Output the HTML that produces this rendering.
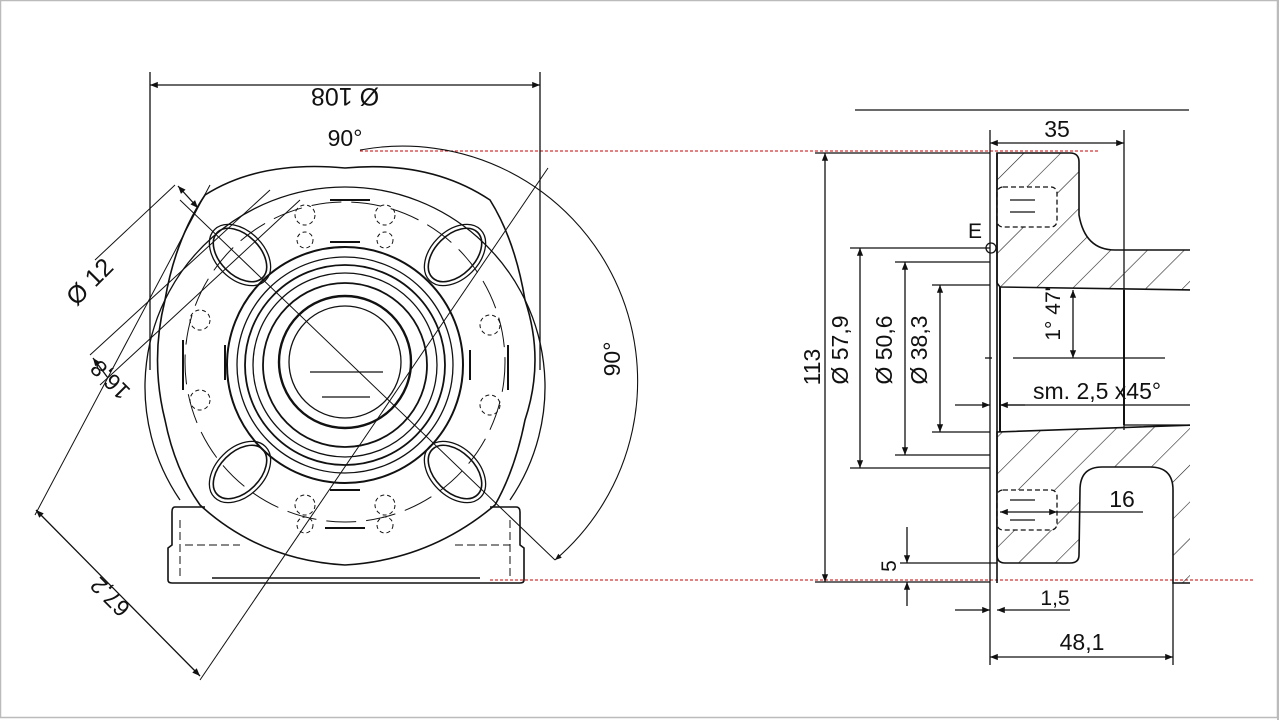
<!DOCTYPE html>
<html><head><meta charset="utf-8"><style>
html,body{margin:0;padding:0;background:#fff;}
svg{display:block}
text{font-family:"Liberation Sans",sans-serif;fill:#111}
</style></head><body>
<svg width="1280" height="720" viewBox="0 0 1280 720" xmlns="http://www.w3.org/2000/svg">
<defs>
<marker id="a" viewBox="0 0 10 10" refX="10" refY="5" markerWidth="9" markerHeight="6" orient="auto-start-reverse"><path d="M0,1 L10,5 L0,9 Z" fill="#111"/></marker>
<pattern id="h" width="26" height="26" patternUnits="userSpaceOnUse" patternTransform="rotate(45)"><line x1="0" y1="0" x2="0" y2="26" stroke="#222" stroke-width="1.2"/></pattern>
<clipPath id="cp"><rect x="0" y="0" width="1190" height="720"/></clipPath>
</defs>
<rect x="0.5" y="0.5" width="1277" height="717" fill="none" stroke="#bbb" stroke-width="1.5"/>
<line x1="360" y1="151" x2="1100" y2="151" stroke="#c00" stroke-dasharray="3,2" stroke-width="1"/>
<line x1="490" y1="580" x2="1255" y2="580" stroke="#c00" stroke-dasharray="3,2" stroke-width="1"/>

<g stroke="#111" fill="none" stroke-width="1.3">
<line x1="150" y1="72" x2="150" y2="370"/><line x1="540" y1="72" x2="540" y2="370"/>
<line x1="150" y1="85" x2="540" y2="85" marker-start="url(#a)" marker-end="url(#a)"/>
<path d="M180 500 A200 200 0 1 1 510 500"/>
<path d="M205 195 Q260 160 345 168 Q430 160 490 200 Q515 240 525 300 Q545 360 525 420 Q515 470 495 505 Q430 560 345 565 Q260 560 200 505 Q175 470 165 420 Q150 360 165 300 Q175 240 205 195 Z" stroke-width="1.6"/>
<circle cx="345" cy="362" r="160" stroke-dasharray="30,10" stroke-width="1"/>
<circle cx="345" cy="365" r="118" stroke-width="2"/>
<circle cx="345" cy="365" r="108"/>
<circle cx="345" cy="365" r="100" stroke-width="1.8"/>
<circle cx="345" cy="365" r="92"/>
<circle cx="345" cy="365" r="82" stroke-width="1.8"/>
<circle cx="345" cy="362" r="66" stroke-width="2.4"/>
<circle cx="345" cy="362" r="56"/>
<line x1="310" y1="372" x2="383" y2="372"/><line x1="322" y1="397" x2="370" y2="397"/>
<ellipse cx="240" cy="255" rx="32" ry="20" transform="rotate(45 240 255)" stroke-width="1.6"/>
<ellipse cx="240" cy="255" rx="36" ry="24" transform="rotate(45 240 255)"/>
<ellipse cx="455" cy="255" rx="32" ry="20" transform="rotate(-45 455 255)" stroke-width="1.6"/>
<ellipse cx="455" cy="255" rx="36" ry="24" transform="rotate(-45 455 255)"/>
<ellipse cx="240" cy="472" rx="32" ry="20" transform="rotate(-45 240 472)" stroke-width="1.6"/>
<ellipse cx="240" cy="472" rx="36" ry="24" transform="rotate(-45 240 472)"/>
<ellipse cx="455" cy="472" rx="32" ry="20" transform="rotate(45 455 472)" stroke-width="1.6"/>
<ellipse cx="455" cy="472" rx="36" ry="24" transform="rotate(45 455 472)"/>
<g stroke-dasharray="4,3" stroke-width="1">
<circle cx="305" cy="215" r="10"/><circle cx="385" cy="215" r="10"/><circle cx="305" cy="240" r="8"/><circle cx="385" cy="240" r="8"/>
<circle cx="305" cy="505" r="10"/><circle cx="385" cy="505" r="10"/><circle cx="305" cy="525" r="8"/><circle cx="385" cy="525" r="8"/>
<circle cx="200" cy="320" r="10"/><circle cx="200" cy="400" r="10"/><circle cx="490" cy="325" r="10"/><circle cx="490" cy="405" r="10"/>
</g>
<line x1="330" y1="200" x2="370" y2="200" stroke-width="2"/><line x1="330" y1="242" x2="360" y2="242" stroke-width="2"/>
<line x1="325" y1="528" x2="365" y2="528" stroke-width="2"/><line x1="330" y1="490" x2="360" y2="490" stroke-width="2"/>
<line x1="183" y1="340" x2="183" y2="390" stroke-width="2"/><line x1="225" y1="345" x2="225" y2="380" stroke-width="2"/>
<line x1="508" y1="345" x2="508" y2="390" stroke-width="2"/><line x1="470" y1="350" x2="470" y2="380" stroke-width="2"/>
<path d="M205 507 L175 507 Q172 507 172 512 L172 545 L168 548 L168 580 Q168 583 172 583 L520 583 Q524 583 524 580 L524 548 L520 545 L520 512 Q520 507 516 507 L490 507" stroke-width="1.6"/>
<g stroke-dasharray="8,4" stroke-width="1"><line x1="180" y1="520" x2="180" y2="578"/><line x1="510" y1="520" x2="510" y2="578"/><line x1="185" y1="545" x2="240" y2="545"/><line x1="455" y1="545" x2="510" y2="545"/></g>
<line x1="212" y1="578" x2="480" y2="578" stroke-width="1.6"/>
<line x1="180" y1="200" x2="555" y2="560" stroke-width="1"/>
<line x1="548" y1="168" x2="200" y2="680" stroke-width="1"/>
<line x1="175" y1="185" x2="95" y2="260" stroke-width="1"/>
<line x1="210" y1="185" x2="35" y2="515" stroke-width="1"/>
<line x1="90" y1="355" x2="270" y2="190" stroke-width="1"/>
<line x1="100" y1="385" x2="300" y2="200" stroke-width="1"/>
<line x1="178" y1="186" x2="198" y2="208" marker-start="url(#a)" marker-end="url(#a)"/>
<line x1="93" y1="358" x2="108" y2="378" marker-start="url(#a)"/>
<line x1="36" y1="510" x2="200" y2="676" marker-start="url(#a)" marker-end="url(#a)"/>
<path d="M360 150 A235 235 0 0 1 555 560" stroke-width="1.1" marker-end="url(#a)"/>

<line x1="855" y1="110" x2="1189" y2="110"/>
<line x1="990" y1="130" x2="990" y2="665"/><line x1="1124" y1="130" x2="1124" y2="430"/>
<line x1="990" y1="143" x2="1124" y2="143" marker-start="url(#a)" marker-end="url(#a)"/>
<g clip-path="url(#cp)">
<path d="M997 153 L1070 153 Q1079 153 1079 162 L1079 215 Q1085 250 1115 250 L1195 250 L1195 290 L1000 287 L997 283 Z" fill="url(#h)" stroke-width="1.6"/>
<path d="M997 432 L1195 425 L1195 583 L1173 583 L1173 490 Q1173 467 1150 467 L1102 467 Q1080 467 1080 490 L1079 555 Q1079 563 1070 563 L1005 563 Q997 563 997 555 Z" fill="url(#h)" stroke-width="1.6"/>
<line x1="1124" y1="425" x2="1195" y2="425"/>
</g>
<rect x="997" y="187" width="60" height="40" rx="6" fill="#fff" stroke-dasharray="5,3"/>
<rect x="997" y="490" width="60" height="40" rx="6" fill="#fff" stroke-dasharray="5,3"/>
<line x1="1010" y1="200" x2="1035" y2="200"/><line x1="1010" y1="212" x2="1035" y2="212"/>
<line x1="1010" y1="500" x2="1035" y2="500"/><line x1="1010" y1="520" x2="1035" y2="520"/>
<line x1="997" y1="153" x2="997" y2="583" stroke-width="1.6"/>
<line x1="1000" y1="287" x2="1000" y2="432" stroke-width="2"/>
<line x1="1124" y1="290" x2="1124" y2="425" stroke-width="2"/>
<circle cx="991" cy="248" r="5"/>
<line x1="1013" y1="358" x2="1165" y2="358"/><line x1="985" y1="358" x2="992" y2="358"/>
<line x1="1073" y1="290" x2="1073" y2="358" marker-start="url(#a)" marker-end="url(#a)"/>
<line x1="1000" y1="405" x2="1190" y2="405"/>
<line x1="955" y1="405" x2="990" y2="405" marker-end="url(#a)"/>
<line x1="1025" y1="405" x2="1000" y2="405" marker-end="url(#a)"/>
<line x1="1000" y1="512" x2="1057" y2="512" marker-start="url(#a)" marker-end="url(#a)"/><line x1="1057" y1="512" x2="1143" y2="512"/>
<line x1="815" y1="153" x2="990" y2="153"/><line x1="815" y1="582" x2="990" y2="582"/>
<line x1="825" y1="153" x2="825" y2="582" marker-start="url(#a)" marker-end="url(#a)"/>
<line x1="850" y1="248" x2="990" y2="248"/><line x1="850" y1="468" x2="990" y2="468"/>
<line x1="860" y1="248" x2="860" y2="468" marker-start="url(#a)" marker-end="url(#a)"/>
<line x1="895" y1="262" x2="990" y2="262"/><line x1="895" y1="455" x2="990" y2="455"/>
<line x1="905" y1="262" x2="905" y2="455" marker-start="url(#a)" marker-end="url(#a)"/>
<line x1="932" y1="285" x2="990" y2="285"/><line x1="932" y1="432" x2="990" y2="432"/>
<line x1="940" y1="285" x2="940" y2="432" marker-start="url(#a)" marker-end="url(#a)"/>
<line x1="900" y1="563" x2="997" y2="563"/>
<line x1="907" y1="527" x2="907" y2="563" marker-end="url(#a)"/><line x1="907" y1="606" x2="907" y2="582" marker-end="url(#a)"/>
<line x1="1173" y1="583" x2="1173" y2="665"/>
<line x1="955" y1="610" x2="990" y2="610" marker-end="url(#a)"/><line x1="1070" y1="610" x2="997" y2="610" marker-end="url(#a)"/>
<line x1="990" y1="657" x2="1173" y2="657" marker-start="url(#a)" marker-end="url(#a)"/>
</g>

<text x="345" y="106" font-size="25" text-anchor="middle" transform="rotate(180 345 97)">Ø 108</text>
<text x="345" y="146" font-size="23" text-anchor="middle">90°</text>
<text x="628" y="367" font-size="23" text-anchor="middle" transform="rotate(-90 620 367)">90°</text>
<text x="90" y="290" font-size="25" text-anchor="middle" transform="rotate(-45 90 282)">Ø 12</text>
<text x="110" y="388" font-size="23" text-anchor="middle" transform="rotate(225 110 380)">16,8</text>
<text x="110" y="605" font-size="23" text-anchor="middle" transform="rotate(225 110 597)">67,2</text>
<text x="1057" y="137" font-size="23" text-anchor="middle">35</text>
<text x="975" y="238" font-size="21" text-anchor="middle">E</text>
<text x="820" y="367" font-size="23" text-anchor="middle" transform="rotate(-90 820 367)">113</text>
<text x="856" y="358" font-size="23" text-anchor="middle" transform="rotate(-90 848 358)">Ø 57,9</text>
<text x="900" y="358" font-size="23" text-anchor="middle" transform="rotate(-90 892 358)">Ø 50,6</text>
<text x="935" y="358" font-size="23" text-anchor="middle" transform="rotate(-90 927 358)">Ø 38,3</text>
<text x="1068" y="322" font-size="21" text-anchor="middle" transform="rotate(-90 1060 322)">1° 47'</text>
<text x="1033" y="399" font-size="23">sm.  2,5  x45°</text>
<text x="1122" y="507" font-size="23" text-anchor="middle">16</text>
<text x="903" y="573" font-size="21" text-anchor="middle" transform="rotate(-90 896 573)">5</text>
<text x="1055" y="605" font-size="21" text-anchor="middle">1,5</text>
<text x="1082" y="650" font-size="23" text-anchor="middle">48,1</text>
<rect x="1190" y="100" width="86" height="500" fill="#fff"/>
<line x1="1190" y1="580" x2="1255" y2="580" stroke="#c00" stroke-dasharray="3,2" stroke-width="1"/>
<line x1="1278" y1="0" x2="1278" y2="720" stroke="#bbb" stroke-width="2"/>
</svg>
</body></html>
